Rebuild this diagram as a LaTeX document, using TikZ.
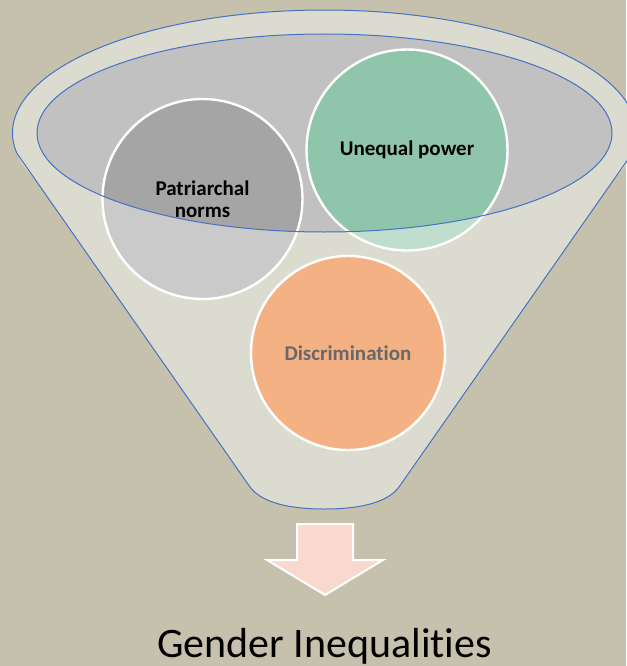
\documentclass[tikz,border=0pt]{standalone}
\usepackage{fontspec}
\setmainfont{Carlito}[Ligatures={NoCommon}]
\definecolor{bgcol}{HTML}{C5C1AC}
\definecolor{funnelcol}{HTML}{DCDBCF}
\definecolor{innercol}{HTML}{C1C1C1}
\definecolor{patdark}{HTML}{A5A5A5}
\definecolor{patlight}{HTML}{CACACA}
\definecolor{grndark}{HTML}{8FC6AB}
\definecolor{grnlight}{HTML}{BFDECE}
\definecolor{orangecol}{HTML}{F4B183}
\definecolor{arrowcol}{HTML}{F9D8CD}
\definecolor{bluecol}{HTML}{4472C4}
\definecolor{disctext}{HTML}{686868}
\tikzset{
  bubble/.style={circle, draw=white, line width=2.4pt, inner sep=0pt, align=center,
                 font=\bfseries\fontsize{21}{22}\selectfont},
  outline/.style={draw=bluecol, line width=1pt},
}
\begin{document}
\begin{tikzpicture}[x=1pt,y=-1pt]
\useasboundingbox (0,0) rectangle (626,666);
\fill[bgcol] (0,0) rectangle (626,666);
% funnel body
\coordinate (ec) at (324.5,133);
\coordinate (lc) at (16.7,153);
\coordinate (rc) at (632.3,153);
\coordinate (lb) at (250,487);
\coordinate (rb) at (399,487);
\coordinate (bot) at (324.5,509);
\fill[funnelcol] (lc) -- (lb) .. controls (262,503) and (290,509) .. (bot)
  .. controls (359,509) and (387,503) .. (rb) -- (rc) -- cycle;
\fill[funnelcol] (ec) ellipse [x radius=312, y radius=123];
\draw[outline] (lc) arc[start angle=170.64, end angle=369.36, x radius=312, y radius=123]
  -- (rb) .. controls (387,503) and (359,509) .. (bot)
  .. controls (290,509) and (262,503) .. (lb) -- cycle;
% inner ellipse
\fill[innercol] (ec) ellipse [x radius=287.5, y radius=99];
% circles light parts
\fill[patlight] (202.5,199) circle[radius=100];
\fill[grnlight] (407,150) circle[radius=100.5];
\begin{scope}
  \clip (ec) ellipse [x radius=287.5, y radius=99];
  \fill[patdark] (202.5,199) circle[radius=100];
  \fill[grndark] (407,150) circle[radius=100.5];
\end{scope}
\node[bubble, minimum size=200pt] (pat) at (202.5,199) {Patriarchal\\norms};
\node[bubble, minimum size=201pt] (pow) at (407,150) {Unequal power};
\node[bubble, fill=orangecol, minimum size=194pt, text=disctext] (disc) at (348,353) {Discrimination};
\draw[outline] (ec) ellipse [x radius=287.5, y radius=99];
% arrow
\draw[fill=arrowcol, draw=white, line width=2pt, line join=miter]
  (297,524) -- (353,524) -- (353,560) -- (383,560) -- (325,595) -- (267,560) -- (297,560) -- cycle;
\node[anchor=base, font=\fontsize{42}{46}\selectfont, inner sep=0pt] (gi) at (324.5,657) {Gender Inequalities};
\end{tikzpicture}
\end{document}
